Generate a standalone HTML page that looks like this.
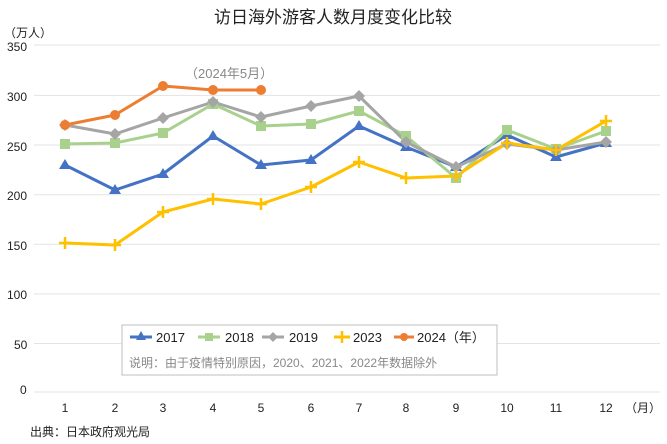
<!DOCTYPE html>
<html><head><meta charset="utf-8"><style>
body{margin:0;background:#fff;}
svg{display:block;font-family:"Liberation Sans","Noto Sans CJK SC",sans-serif;}
</style></head><body>
<svg width="667" height="444" viewBox="0 0 667 444">
<text x="333" y="23" font-size="17" text-anchor="middle" fill="#222">访日海外游客人数月度变化比较</text>
<text x="4" y="37" font-size="12" fill="#222">（万人）</text>
<g stroke="#e3e3e3" stroke-width="1">
<line x1="34" x2="660" y1="45" y2="45"/><line x1="34" x2="660" y1="95.4" y2="95.4"/>
<line x1="34" x2="660" y1="145" y2="145"/><line x1="34" x2="660" y1="194.7" y2="194.7"/>
<line x1="34" x2="660" y1="244.3" y2="244.3"/><line x1="34" x2="660" y1="293.9" y2="293.9"/>
<line x1="34" x2="660" y1="343.5" y2="343.5"/><line x1="34" x2="660" y1="392" y2="392"/>
</g>
<g font-size="12" fill="#222">
<text x="7" y="51">350</text><text x="7" y="101">300</text><text x="7" y="151">250</text>
<text x="7" y="200">200</text><text x="7" y="250">150</text><text x="7" y="299">100</text>
<text x="14" y="349">50</text><text x="20" y="394">0</text>
</g>
<g font-size="12" fill="#222" text-anchor="middle">
<text x="65" y="412">1</text><text x="115" y="412">2</text><text x="163" y="412">3</text><text x="213" y="412">4</text>
<text x="261" y="412">5</text><text x="311" y="412">6</text><text x="359" y="412">7</text><text x="406" y="412">8</text>
<text x="456" y="412">9</text><text x="507" y="412">10</text><text x="556" y="412">11</text><text x="606" y="412">12</text>
<text x="643" y="412">（月）</text>
</g>
<text x="30" y="436" font-size="12" fill="#222">出典：日本政府观光局</text>
<text x="185" y="78" font-size="13" fill="#888">（2024年5月）</text>
<g fill="none" stroke-width="3" stroke-linejoin="round">
<polyline stroke="#4472c4" points="65,165 115,190 163,174 213,136 261,165 311,160 359,126 406,147 456,167 507,135 556,157 606,143"/>
<polyline stroke="#a9d18e" points="65,144 115,143 163,133 213,104 261,126 311,124 359,111 406,136 456,178 507,130 556,149 606,131"/>
<polyline stroke="#a5a5a5" points="65,125 115,134 163,118 213,102 261,117 311,106 359,96 406,142 456,167 507,144 556,150 606,142"/>
<polyline stroke="#ffc000" points="65,243 115,245 163,212 213,199 261,204 311,187 359,162 406,178 456,176 507,143 556,150 606,121"/>
<polyline stroke="#ed7d31" points="65,125 115,115 163,86 213,90 261,90"/>
</g>
<g fill="#4472c4">
<polygon points="65,159 71,169 59,169"/><polygon points="115,184 121,194 109,194"/><polygon points="163,168 169,178 157,178"/><polygon points="213,130 219,140 207,140"/><polygon points="261,159 267,169 255,169"/><polygon points="311,154 317,164 305,164"/><polygon points="359,120 365,130 353,130"/><polygon points="406,141 412,151 400,151"/><polygon points="456,161 462,171 450,171"/><polygon points="507,129 513,139 501,139"/><polygon points="556,151 562,161 550,161"/><polygon points="606,137 612,147 600,147"/>
</g>
<g fill="#a9d18e">
<rect x="60" y="139" width="10" height="10"/><rect x="110" y="138" width="10" height="10"/><rect x="158" y="128" width="10" height="10"/><rect x="208" y="99" width="10" height="10"/><rect x="256" y="121" width="10" height="10"/><rect x="306" y="119" width="10" height="10"/><rect x="354" y="106" width="10" height="10"/><rect x="401" y="131" width="10" height="10"/><rect x="451" y="173" width="10" height="10"/><rect x="502" y="125" width="10" height="10"/><rect x="551" y="144" width="10" height="10"/><rect x="601" y="126" width="10" height="10"/>
</g>
<g fill="#a5a5a5">
<polygon points="65,119 71,125 65,131 59,125"/><polygon points="115,128 121,134 115,140 109,134"/><polygon points="163,112 169,118 163,124 157,118"/><polygon points="213,96 219,102 213,108 207,102"/><polygon points="261,111 267,117 261,123 255,117"/><polygon points="311,100 317,106 311,112 305,106"/><polygon points="359,90 365,96 359,102 353,96"/><polygon points="406,136 412,142 406,148 400,142"/><polygon points="456,161 462,167 456,173 450,167"/><polygon points="507,138 513,144 507,150 501,144"/><polygon points="556,144 562,150 556,156 550,150"/><polygon points="606,136 612,142 606,148 600,142"/>
</g>
<g stroke="#ffc000" stroke-width="2.5">
<path d="M59,243h12M65,237v12M109,245h12M115,239v12M157,212h12M163,206v12M207,199h12M213,193v12M255,204h12M261,198v12M305,187h12M311,181v12M353,162h12M359,156v12M400,178h12M406,172v12M450,176h12M456,170v12M501,143h12M507,137v12M550,150h12M556,144v12M600,121h12M606,115v12"/>
</g>
<g fill="#ed7d31">
<circle cx="65" cy="125" r="5"/><circle cx="115" cy="115" r="5"/><circle cx="163" cy="86" r="5"/><circle cx="213" cy="90" r="5"/><circle cx="261" cy="90" r="5"/>
</g>
<rect x="122" y="325" width="375" height="50" fill="#fff" stroke="#bfbfbf"/>
<g stroke-width="3">
<line x1="130" x2="152" y1="337" y2="337" stroke="#4472c4"/><line x1="198" x2="220" y1="337" y2="337" stroke="#a9d18e"/>
<line x1="262" x2="284" y1="337" y2="337" stroke="#a5a5a5"/><line x1="334" x2="350" y1="337" y2="337" stroke="#ffc000"/>
<line x1="394" x2="414" y1="337" y2="337" stroke="#ed7d31"/>
</g>
<polygon points="141,331 146,340 136,340" fill="#4472c4"/>
<rect x="205" y="333" width="8" height="8" fill="#a9d18e"/>
<polygon points="273,332 278,337 273,342 268,337" fill="#a5a5a5"/>
<path d="M336,337h12M342,331v12" stroke="#ffc000" stroke-width="2.5"/>
<circle cx="404" cy="337" r="4" fill="#ed7d31"/>
<g font-size="13" fill="#222">
<text x="156" y="342">2017</text><text x="225" y="342">2018</text><text x="289" y="342">2019</text><text x="353" y="342">2023</text><text x="417" y="342">2024（年）</text>
</g>
<text x="129" y="367" font-size="12" fill="#888">说明：由于疫情特别原因，2020、2021、2022年数据除外</text>
</svg>
</body></html>
